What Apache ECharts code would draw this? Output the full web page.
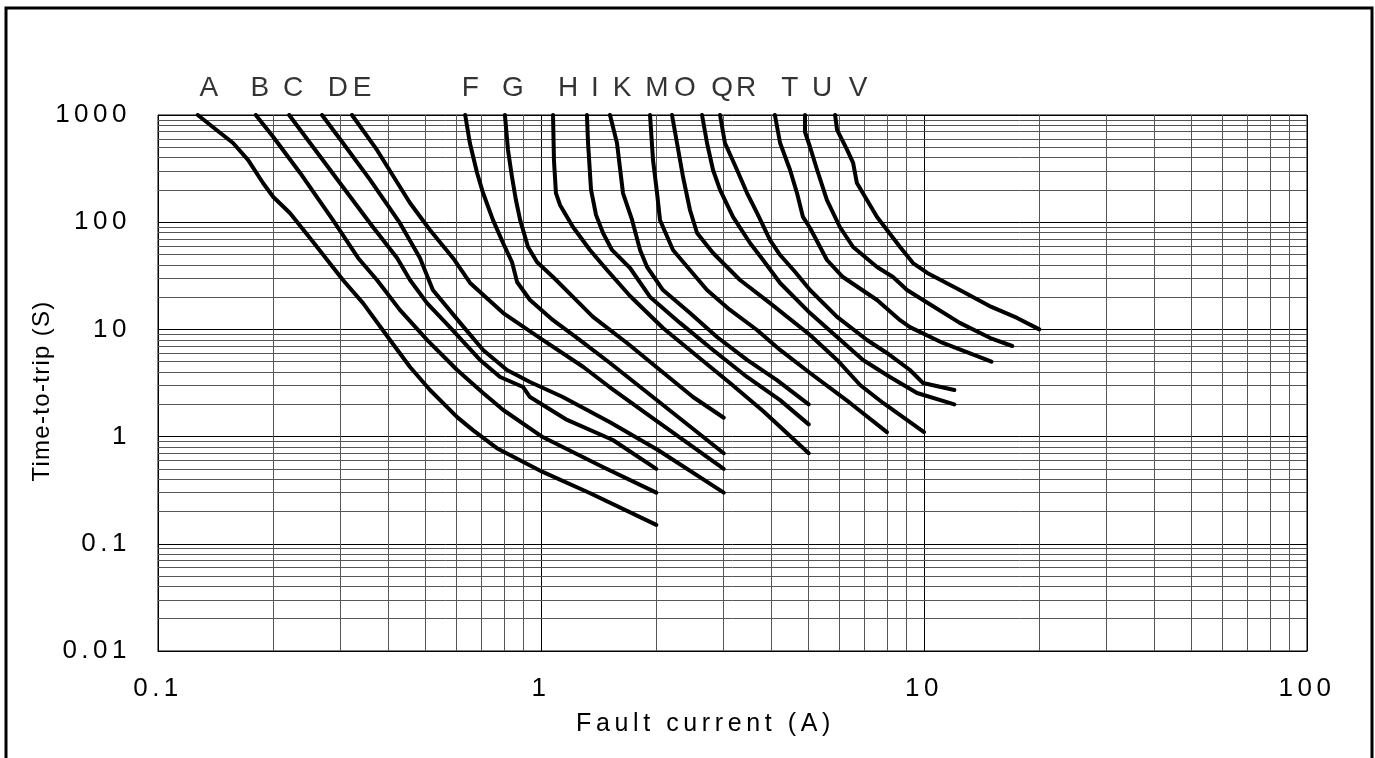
<!DOCTYPE html>
<html>
<head>
<meta charset="utf-8">
<script src="https://cdn.jsdelivr.net/npm/echarts@6/dist/echarts.min.js"></script>
<style>
html,body{margin:0;padding:0;background:#fff;}
#chart{width:1375px;height:758px;}
</style>
</head>
<body>
<div id="chart"></div>
<script>
// ---- data (fault current in A, time-to-trip in s) ----
const curveNames = ['A','B','C','D','E','F','G','H','I','K','M','O','Q','R','T','U','V'];

const xA = [0.127,0.139,0.157,0.172,0.188,0.2,0.221,0.252,0.304,0.343,0.403,0.455,0.513,0.604,0.664,0.767,1.01,1.34,2];
const yA = [1000,773,548,380,232,172,122,68,28.9,17.6,8,4.46,2.72,1.52,1.15,0.78,0.468,0.298,0.15];

const xB = [0.18,0.2,0.235,0.286,0.333,0.373,0.428,0.504,0.604,0.706,0.797,1.01,1.45,2];
const yB = [1000,624,288,105,46.4,28.9,15.2,8.0,4.18,2.55,1.77,0.99,0.52,0.3];

const xC = [0.22,0.254,0.304,0.364,0.421,0.455,0.504,0.578,0.693,0.782,0.898,0.936,1.17,1.54,2];
const yC = [1000,503,213,90.2,46.4,28.9,17.6,10.5,5.19,3.6,2.9,2.34,1.43,0.93,0.5];

const xD = [0.268,0.304,0.358,0.428,0.483,0.522,0.615,0.706,0.815,0.936,1.14,1.51,2.02,3];
const yD = [1000,548,248,98.4,46.4,23.3,11.5,6.43,4.18,3.23,2.34,1.37,0.75,0.3];

const xE = [0.321,0.373,0.455,0.513,0.589,0.653,0.797,1.01,1.29,1.51,2.02,3];
const yE = [1000,472,151,84.6,46.4,27.1,14.2,8.0,4.46,2.9,1.37,0.5];

const xF = [0.634,0.652,0.681,0.706,0.749,0.796,0.84,0.866,0.936,1.075,1.264,1.514,2.02,3];
const yF = [1000,548,288,187,105,64,42.5,27.7,18.8,12.2,7.96,4.86,2.15,0.7];

const xG = [0.805,0.82,0.84,0.86,0.882,0.925,0.976,1.075,1.212,1.367,1.677,2.045,2.494,3];
const yG = [1000,472,264,161,105,58.7,42.5,30.8,20.1,13.1,7.47,4.18,2.34,1.5];

const xH = [1.075,1.081,1.094,1.121,1.212,1.342,1.487,1.708,2.082,2.555,3.115,3.8,5];
const yH = [1000,380,187,145,90.2,55.1,35.8,20.5,10.3,5.65,3.16,1.73,0.7];

const xI = [1.318,1.327,1.351,1.392,1.452,1.532,1.708,1.926,2.306,2.813,3.451,4.21,5];
const yI = [1000,548,200,117,79.3,55.1,37.4,20.1,11.5,6.43,3.6,2.19,1.3];

const xK = [1.514,1.579,1.637,1.729,1.814,1.892,2.082,2.449,2.881,3.451,4.13,5];
const yK = [1000,548,187,105,55.1,38.2,23.3,14.2,8.49,5.19,3.37,2.0];

const xM = [1.926,1.961,2.009,2.045,2.082,2.211,2.449,2.713,3.115,3.664,4.21,5.04,6.41,8];
const yM = [1000,380,187,105,90.2,55.1,35.8,23.3,15.2,9.87,6.43,3.92,2.06,1.1];

const xO = [2.198,2.265,2.349,2.449,2.555,2.813,3.308,3.963,5.04,5.93,6.81,7.82,10];
const yO = [1000,548,264,130,79.3,51.6,28.9,17.6,8.87,5.19,3.03,2.06,1.1];

const xQ = [2.633,2.713,2.813,2.934,3.172,3.513,3.8,4.21,5.04,5.93,6.93,8.15,9.59,12];
const yQ = [1000,548,307,200,112,64,44.4,27.1,14.2,8.49,5.19,3.6,2.55,2.0];

const xR = [2.934,3.022,3.25,3.451,3.664,3.963,4.21,4.61,5.04,5.93,7.1,8.0,9.19,9.94,12];
const yR = [1000,548,307,187,122,68.2,49.4,34.3,23.3,13.1,7.96,6.03,4.18,3.16,2.72];

const xT = [4.08,4.21,4.47,4.66,4.83,5.04,5.58,6.14,7.54,8.66,9.19,11.2,15];
const yT = [1000,548,307,187,112,88.3,44.4,30.8,18.8,12.2,10.5,7.47,5.0];

const xU = [4.89,4.89,5.04,5.26,5.58,6.03,6.53,7.54,8.3,9.03,9.94,12.4,14.9,17];
const yU = [1000,694,503,307,161,90.2,58.7,38.2,30.8,23.3,18.8,11.5,8.3,7.0];

const xV = [5.86,5.93,6.3,6.53,6.68,7.54,8.66,9.36,10.2,12.4,15.0,17.5,20];
const yV = [1000,725,472,357,232,112,58.7,41.6,33.6,23.3,16.2,12.8,10];

// axis ranges and minor grid values
const xRange = [0.1, 100];
const yRange = [0.01, 1000];
const xMinorTicks = [0.2,0.3,0.4,0.5,0.6,0.7,0.8,0.9, 2,3,4,5,6,7,8,9, 20,30,40,50,60,70,80,90];
const yMinorTicks = [0.02,0.03,0.04,0.05,0.06,0.07,0.08,0.09,
                     0.2,0.3,0.4,0.5,0.6,0.7,0.8,0.9,
                     2,3,4,5,6,7,8,9,
                     20,30,40,50,60,70,80,90,
                     200,300,400,500,600,700,800,900];

// ---- styles (not data) ----
const curveXs = [xA,xB,xC,xD,xE,xF,xG,xH,xI,xK,xM,xO,xQ,xR,xT,xU,xV];
const curveYs = [yA,yB,yC,yD,yE,yF,yG,yH,yI,yK,yM,yO,yQ,yR,yT,yU,yV];
const labelDx = [11,4,4,16,10,5,8,15,8,12,7,13,20,26,15,17,23];
const FONT = 'Liberation Sans, Arial, Helvetica, sans-serif';

// letter spacing of the typeset axis texts (keyed by font size)
const spacingBySize = { '26': '4.5px', '24': '1.3px', '25': '4.6px' };
(function () {
  const proto = CanvasRenderingContext2D.prototype;
  const origFill = proto.fillText;
  proto.fillText = function (t, x, y, w) {
    const m = /(\d+(?:\.\d+)?)px/.exec(this.font || '');
    try { this.letterSpacing = (m && spacingBySize[m[1]]) || '0px'; } catch (e) {}
    return w === undefined ? origFill.call(this, t, x, y) : origFill.call(this, t, x, y, w);
  };
})();

const series = [];

series.push({
  type: 'lines', coordinateSystem: 'cartesian2d', silent: true, z: 1,
  lineStyle: { color: '#555', width: 1, opacity: 1, curveness: 0 },
  data: xMinorTicks.map(v => ({ coords: [[v, yRange[0]], [v, yRange[1]]] }))
});
series.push({
  type: 'lines', coordinateSystem: 'cartesian2d', silent: true, z: 1,
  lineStyle: { color: '#555', width: 1, opacity: 1, curveness: 0 },
  data: yMinorTicks.map(v => ({ coords: [[xRange[0], v], [xRange[1], v]] }))
});

curveNames.forEach((n, i) => {
  series.push({
    type: 'line', name: n, z: 3, silent: true,
    symbol: 'none', showSymbol: false, smooth: false,
    lineStyle: { color: '#000', width: 4, join: 'round', cap: 'round' },
    data: curveXs[i].map((x, j) => [x, curveYs[i][j]])
  });
});

series.push({
  type: 'scatter', z: 4, silent: true, symbolSize: 1,
  itemStyle: { color: 'rgba(0,0,0,0)' },
  label: { show: true, position: 'top', distance: 12, formatter: '{b}',
           fontSize: 28, color: '#000', fontFamily: FONT },
  data: curveNames.map((n, i) => ({
    name: n, value: [curveXs[i][0], curveYs[i][0]],
    label: { offset: [labelDx[i], 0] }
  }))
});

const fmt = v => String(+Number(v).toPrecision(6));

const chart = echarts.init(document.getElementById('chart'), null, { renderer: 'canvas' });
chart.setOption({
  animation: false,
  backgroundColor: '#fff',
  grid: { left: 158, right: 68, top: 115, bottom: 107, show: true,
          borderColor: '#000', borderWidth: 1, backgroundColor: 'rgba(0,0,0,0)' },
  xAxis: {
    type: 'log', logBase: 10, min: xRange[0], max: xRange[1],
    axisLine: { show: true, lineStyle: { color: '#000', width: 1 } },
    axisTick: { show: false },
    splitLine: { show: true, lineStyle: { color: '#000', width: 1 } },
    axisLabel: { fontSize: 26, color: '#000', margin: 25, fontFamily: FONT, formatter: fmt },
    name: 'Fault current (A)', nameLocation: 'middle', nameGap: 61,
    nameTextStyle: { fontSize: 25, color: '#000', fontFamily: FONT, padding: [0, 54, 0, 0] }
  },
  yAxis: {
    type: 'log', logBase: 10, min: yRange[0], max: yRange[1],
    axisLine: { show: true, lineStyle: { color: '#000', width: 1 } },
    axisTick: { show: false },
    splitLine: { show: true, lineStyle: { color: '#000', width: 1 } },
    axisLabel: { fontSize: 26, color: '#000', margin: 27, fontFamily: FONT, formatter: fmt },
    name: 'Time-to-trip (S)', nameLocation: 'middle', nameGap: 104,
    nameTextStyle: { fontSize: 24, color: '#000', fontFamily: FONT, padding: [0, 16, 0, 0] }
  },
  graphic: [{
    type: 'rect', silent: true, z: 100,
    shape: { x: 6, y: 8, width: 1366, height: 800 },
    style: { fill: 'rgba(0,0,0,0)', stroke: '#000', lineWidth: 3 }
  }],
  series: series
});
</script>
</body>
</html>
